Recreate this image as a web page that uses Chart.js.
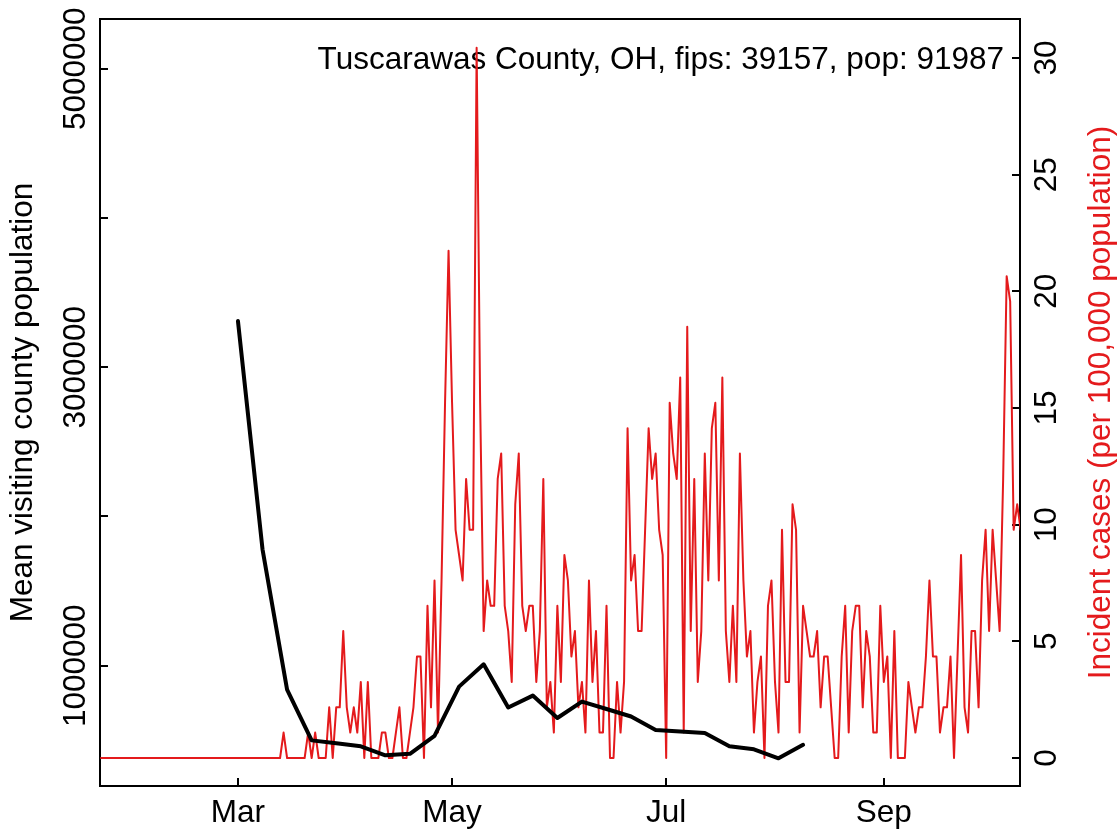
<!DOCTYPE html>
<html>
<head>
<meta charset="utf-8">
<script src="https://cdn.jsdelivr.net/npm/chart.js@4.4.1/dist/chart.umd.min.js"></script>
<style>
  html, body { margin: 0; padding: 0; background: #fff; }
  #wrap { width: 1118px; height: 830px; }
</style>
</head>
<body>
<div id="wrap"><canvas id="chart" width="1118" height="830"></canvas></div>
<script>
// x is days counted from 1 March 2020
const monthDays = [0, 61, 122, 184];
const monthLabels = ['Mar', 'May', 'Jul', 'Sep'];

// weekly mean visiting county population (black line)
const visitDays = [0, 7, 14, 21, 28, 35, 42, 49, 56, 63, 70, 77, 84, 91, 98, 105, 112, 119, 126, 133, 140, 147, 154, 161];
const visitPop = [3310000, 1780000, 840000, 500000, 480000, 460000, 400000, 410000, 530000, 860000,
  1010000, 720000, 800000, 650000, 760000, 710000, 660000, 570000, 560000, 550000,
  460000, 440000, 380000, 470000];

// daily incident cases per 100,000 (red line), first value is day -39 (21 Jan)
const caseStartDay = -39;
const caseRate = [
  0,0,0,0,0,0,0,0,0,0, 0,0,0,0,0,0,0,0,0,0, 0,0,0,0,0,0,0,0,0,0,
  0,0,0,0,0,0,0,0,0,0, 0,0,0,0,0,0,0,0,0,0, 0,0,
  1.09,0,0,0,0,0,0,1.09,0,1.09,
  0,0,0,2.17,0,2.17,2.17,5.44,2.17,1.09,
  2.17,1.09,3.26,0,3.26,0,0,0,1.09,1.09,
  0,0,1.09,2.17,0,0,1.09,2.17,4.35,4.35,
  0,6.52,2.17,7.61,1.09,7.61,15.22,21.74,15.22,9.78,
  8.70,7.61,11.96,9.78,9.78,30.44,15.22,5.44,7.61,6.52,
  6.52,11.96,13.05,6.52,5.44,3.26,10.87,13.05,6.52,5.44,
  6.52,6.52,3.26,5.44,11.96,2.17,3.26,1.09,6.52,3.26,
  8.70,7.61,4.35,5.44,2.17,3.26,1.09,7.61,3.26,5.44,
  1.09,1.09,6.52,0,0,3.26,1.09,3.26,14.13,7.61,
  8.70,5.44,5.44,9.78,14.13,11.96,13.05,9.78,8.70,0,
  15.22,13.05,11.96,16.31,1.09,18.48,5.44,11.96,3.26,5.44,
  13.05,7.61,14.13,15.22,7.61,16.31,5.44,3.26,6.52,3.26,
  13.05,7.61,4.35,5.44,1.09,3.26,4.35,0,6.52,7.61,
  3.26,1.09,9.78,3.26,3.26,10.87,9.78,1.09,6.52,5.44,
  4.35,4.35,5.44,2.17,4.35,4.35,2.17,0,0,4.35,
  6.52,1.09,5.44,6.52,6.52,2.17,5.44,4.35,1.09,1.09,
  6.52,3.26,4.35,0,5.44,0,0,0,3.26,2.17,
  1.09,2.17,2.17,4.35,7.61,4.35,4.35,1.09,2.17,2.17,
  4.35,0,4.35,8.70,2.17,1.09,5.44,5.44,2.17,7.61,
  9.78,5.44,9.78,7.61,5.44,11.96,20.65,19.57,9.78,10.87,9.78
];

const popTicks = [1000000, 2000000, 3000000, 4000000, 5000000];
const popTickLabels = ['1000000', '', '3000000', '', '5000000'];
const rateTicks = [0, 5, 10, 15, 20, 25, 30];

const chartTitle = 'Tuscarawas County, OH, fips: 39157, pop: 91987';
const leftTitle = 'Mean visiting county population';
const rightTitle = 'Incident cases (per 100,000 population)';

const RED = '#e41a1c';
const FONT = '"Liberation Sans", Arial, Helvetica, sans-serif';
const FSIZE = 31.5;

Chart.defaults.font.family = FONT;
Chart.defaults.font.size = FSIZE;
Chart.defaults.color = '#000';

const axisLine = { display: true, color: '#000', width: 2 };
const tickMarks = { display: true, drawOnChartArea: false, drawTicks: true, tickLength: -8, color: '#000', lineWidth: 2 };

// keep the plot frame where the reference has it: no extra room for overhanging labels
function fixWidth(w) {
  return s => { s.width = w; s.paddingTop = 0; s.paddingBottom = 0; };
}
function fixHeight(h) {
  return s => { s.height = h; s.paddingLeft = 0; s.paddingRight = 0; };
}

// text drawn inside the frame and the right-hand axis title
const textPlugin = {
  id: 'textPlugin',
  beforeDatasetsDraw(chart) {
    const area = chart.chartArea;
    const c = chart.ctx;
    c.save();
    c.font = FSIZE + 'px ' + FONT;
    c.fillStyle = '#000';
    c.textAlign = 'right';
    c.textBaseline = 'alphabetic';
    c.fillText(chartTitle, area.right - 16, area.top + 50);

    c.translate(area.right + 90, (area.top + area.bottom) / 2);
    c.rotate(-Math.PI / 2);
    c.textAlign = 'center';
    c.fillStyle = RED;
    c.fillText(rightTitle, 0, 0);
    c.restore();
  }
};

new Chart(document.getElementById('chart'), {
  type: 'line',
  data: {
    datasets: [
      {
        label: leftTitle,
        data: visitDays.map((d, i) => ({ x: d, y: visitPop[i] })),
        xAxisID: 'x',
        yAxisID: 'yL',
        borderColor: '#000',
        borderWidth: 4,
        borderJoinStyle: 'round',
        borderCapStyle: 'round',
        pointRadius: 0,
        tension: 0
      },
      {
        label: rightTitle,
        data: caseRate.map((v, i) => ({ x: caseStartDay + i, y: v })),
        xAxisID: 'x',
        yAxisID: 'yR',
        borderColor: RED,
        borderWidth: 2,
        borderJoinStyle: 'round',
        borderCapStyle: 'round',
        pointRadius: 0,
        tension: 0
      }
    ]
  },
  options: {
    responsive: false,
    animation: false,
    events: [],
    layout: { padding: { top: 19, left: 0, right: 0, bottom: 0 } },
    plugins: { legend: { display: false }, tooltip: { enabled: false } },
    scales: {
      x: {
        type: 'linear',
        position: 'bottom',
        min: -39.3,
        max: 222.8,
        afterBuildTicks: s => { s.ticks = monthDays.map(v => ({ value: v })); },
        afterFit: fixHeight(44),
        ticks: {
          autoSkip: false,
          maxRotation: 0,
          padding: 16,
          callback: v => monthLabels[monthDays.indexOf(v)] || ''
        },
        grid: tickMarks,
        border: axisLine
      },
      xTop: {
        type: 'linear',
        position: 'top',
        afterFit: fixHeight(0),
        ticks: { display: false },
        grid: { display: false },
        border: axisLine
      },
      yL: {
        type: 'linear',
        position: 'left',
        min: 194300,
        max: 5333300,
        afterBuildTicks: s => { s.ticks = popTicks.map(v => ({ value: v })); },
        afterFit: fixWidth(100),
        ticks: {
          autoSkip: false,
          minRotation: 90,
          maxRotation: 90,
          crossAlign: 'center',
          padding: -29.3,
          callback: v => popTickLabels[popTicks.indexOf(v)]
        },
        title: { display: true, text: leftTitle, padding: { top: 4.6, bottom: 0 } },
        grid: tickMarks,
        border: axisLine
      },
      yR: {
        type: 'linear',
        position: 'right',
        min: -1.2,
        max: 31.67,
        afterBuildTicks: s => { s.ticks = rateTicks.map(v => ({ value: v })); },
        afterFit: fixWidth(98),
        ticks: {
          autoSkip: false,
          minRotation: 90,
          maxRotation: 90,
          crossAlign: 'center',
          padding: 17.8,
          callback: v => String(v)
        },
        grid: tickMarks,
        border: axisLine
      }
    }
  },
  plugins: [textPlugin]
});
</script>
</body>
</html>
